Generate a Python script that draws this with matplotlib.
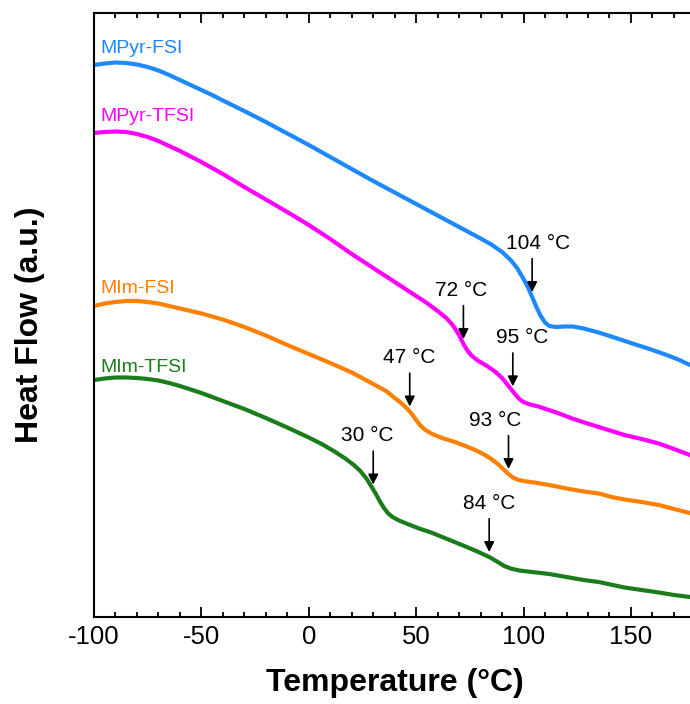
import numpy as np
import matplotlib
matplotlib.use("Agg")
import matplotlib.pyplot as plt
from matplotlib.ticker import MultipleLocator

plt.rcParams['font.family'] = ['Liberation Sans', 'DejaVu Sans']
plt.rcParams['axes.unicode_minus'] = False

# ---- data (temperature in °C, heat flow in arbitrary units) ----
mpyr_fsi_T = [-100, -95, -90, -85, -80, -75, -70, -65, -60, -55, -50, -45, -40, -30, -20, -10, 0, 10, 20,
              30, 40, 50, 60, 70, 80, 85, 90, 94, 97, 100, 102, 104, 106, 108, 110, 112, 115, 119, 123,
              128, 135, 143, 150, 158, 166, 172, 177.5]
mpyr_fsi_y = [552, 553.5, 554.5, 554, 552.5, 550, 546.5, 542, 537, 532, 527, 522, 516.5, 506, 495, 483.5,
              472, 460, 448, 436, 424.5, 413, 401.5, 390, 378.5, 372.5, 365, 357, 349, 338, 330, 320, 310,
              301, 294.5, 291, 290, 290.5, 290.5, 288.5, 284.5, 279, 274, 268.5, 262.5, 257.5, 252]

mpyr_tfsi_T = [-100, -95, -90, -85, -80, -75, -70, -65, -60, -55, -50, -45, -40, -30, -20, -10, 0, 10, 20,
               30, 40, 50, 55, 60, 64, 67, 70, 72, 74, 76, 79, 83, 87, 90, 93, 96, 98, 100, 103, 107,
               111, 116, 122, 129, 135, 141, 147, 155, 163, 170, 177.5]
mpyr_tfsi_y = [484, 485, 485.5, 485, 483, 480, 476, 471, 466, 460.5, 455, 449, 443, 430, 417.5, 405, 392,
               378, 363, 349, 335, 321, 314, 306, 299, 292, 282, 273, 266, 261, 256, 251, 245, 239, 231,
               223, 218, 215, 212.5, 210.5, 207.5, 204, 199, 194, 190, 186, 182, 178, 173.5, 168, 162]

mim_fsi_T = [-100, -95, -90, -85, -80, -75, -70, -65, -60, -50, -40, -30, -20, -10, 0, 10, 20, 30, 36,
             40, 43, 46, 48, 50, 52, 54, 57, 62, 68, 73, 78, 82, 85, 88, 91, 93, 95, 97, 100, 105,
             112, 120, 128, 135, 141, 147, 155, 163, 170, 177.5]
mim_fsi_y = [311, 313.5, 315, 316, 316, 315, 313.5, 311, 308.5, 303.5, 297.5, 290, 281.5, 272, 263, 254,
             244.5, 233, 226, 219, 214, 208, 203, 197, 191.5, 187.5, 183.5, 179, 175, 171, 166.5, 162,
             158, 153, 147, 143, 139.5, 137.5, 136, 134.5, 132, 128.5, 125.5, 123.5, 120, 117.5, 115,
             112, 108, 104]

mim_tfsi_T = [-100, -95, -90, -85, -80, -75, -70, -65, -60, -50, -40, -30, -20, -10, 0, 6, 12, 17, 21,
              24, 27, 29, 31, 33, 35, 37, 39, 42, 46, 52, 57, 65, 73, 79, 84, 88, 91, 94, 98, 104,
              112, 120, 128, 135, 147, 155, 163, 170, 177.5]
mim_tfsi_y = [237, 238.5, 239.5, 239.5, 239, 238, 236.5, 234, 231, 224, 216, 208, 199, 189.5, 179.5, 173,
              165.5, 158.5, 152, 146, 138, 131, 124, 116, 109, 103.5, 100, 96.5, 93, 88, 84.5, 77.5,
              70.5, 65, 60, 55, 51, 48.5, 46.5, 45, 43, 40, 37, 35, 29.5, 27, 24.5, 22, 20]

series_names = ['MPyr-FSI', 'MPyr-TFSI', 'MIm-FSI', 'MIm-TFSI']
series_colors = ['#1e88ff', '#ff00ff', '#ff8000', '#1a7d1a']
series_T = [mpyr_fsi_T, mpyr_tfsi_T, mim_fsi_T, mim_tfsi_T]
series_y = [mpyr_fsi_y, mpyr_tfsi_y, mim_fsi_y, mim_tfsi_y]

# transition temperatures: (series index, temperature)
transition_series = [0, 1, 1, 2, 2, 3, 3]
transition_temps = [104, 72, 95, 47, 93, 30, 84]
transition_text_dx = [6, -2, 9, -1, -13, -6, 0]  # label offsets (px)

# ---- figure ----
W, H = 690, 704
fig = plt.figure(figsize=(W / 100, H / 100), dpi=100)
ax = fig.add_axes([94 / W, 1 - 617 / H, (690 - 94) / W, (617 - 13) / H])

for T, y, c in zip(series_T, series_y, series_colors):
    ax.plot(T, y, color=c, lw=3.0, solid_joinstyle='round', solid_capstyle='round')

label_y_px = [53, 121, 293, 372]
for name, c, ypx in zip(series_names, series_colors, label_y_px):
    ax.text(-97.2, 617 - ypx, name, color=c, fontsize=14, va='baseline', ha='left')

for si, Tg, dx in zip(transition_series, transition_temps, transition_text_dx):
    ycurve = np.interp(Tg, series_T[si], series_y[si])
    tip = ycurve + 5
    ax.annotate('', xy=(Tg, tip), xytext=(0, 24), textcoords='offset points',
                xycoords='data',
                arrowprops=dict(arrowstyle='-|>,head_length=0.6,head_width=0.3',
                                mutation_scale=10, color='black', lw=1.2,
                                shrinkA=0, shrinkB=0))
    ax.annotate(f'{Tg} °C', xy=(Tg, tip), xytext=(dx * 0.72, 24 + 7),
                textcoords='offset points', ha='center', va='baseline',
                fontsize=15, color='black')

ax.set_xlim(-100, 177.5)
ax.set_ylim(0, 604)
ax.set_yticks([])
ax.xaxis.set_major_locator(MultipleLocator(50))
ax.xaxis.set_minor_locator(MultipleLocator(10))
ax.tick_params(axis='x', which='both', direction='in', top=True, bottom=True,
               labelsize=18.5, pad=6)
ax.tick_params(axis='x', which='major', length=7, width=1.3)
ax.tick_params(axis='x', which='minor', length=3.6, width=1.3)
for s in ['left', 'bottom', 'top']:
    ax.spines[s].set_linewidth(1.5)
ax.spines['right'].set_visible(False)

fig.text(395 / W, 1 - 683 / H, 'Temperature (°C)', ha='center', va='center',
         fontsize=23, fontweight='bold')
fig.text(30 / W, 1 - 325 / H, 'Heat Flow (a.u.)', ha='center', va='center',
         rotation=90, fontsize=23, fontweight='bold')

fig.savefig('out.png', dpi=100)
